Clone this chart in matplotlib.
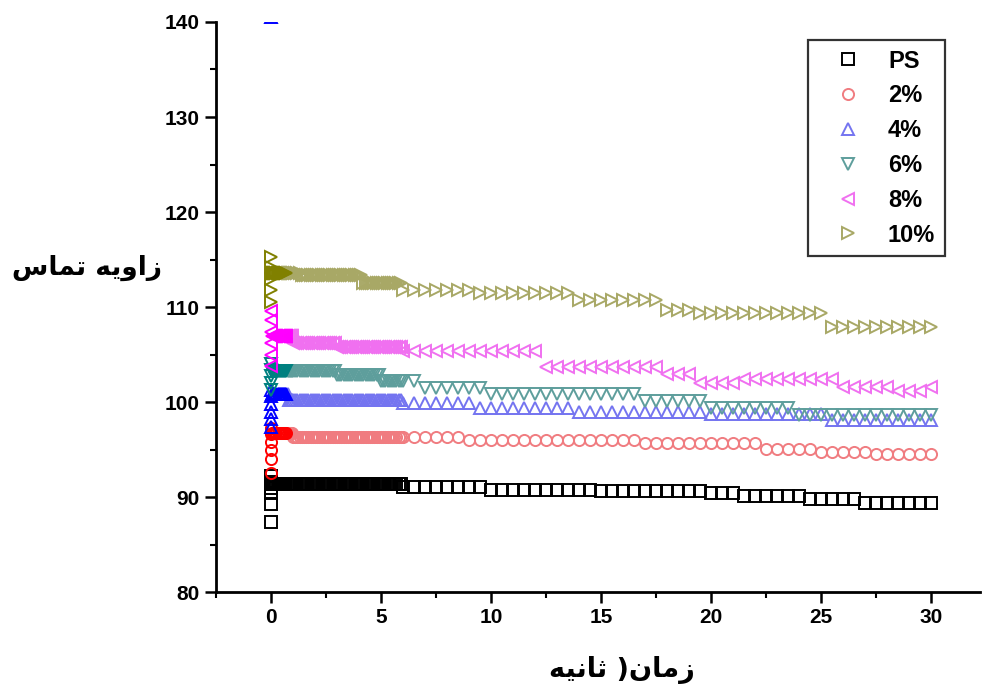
import numpy as np
import matplotlib
matplotlib.use("Agg")
import matplotlib.pyplot as plt
from matplotlib.ticker import MultipleLocator

# sampling times: very dense first second, dense up to 6 s, then every half second
t_fast = np.round(np.arange(0.05, 1.0, 0.05), 2)
t_dense = np.round(np.arange(1.0, 6.0, 0.1), 2)
t_sparse = np.round(np.arange(6.0, 30.01, 0.5), 2)

labels = ["PS", "2%", "4%", "6%", "8%", "10%"]

# values recorded at t = 0 (initial transient)
t0_vals = {
    "PS": [87.4, 89.3, 90.4, 91.0, 91.6, 92.2],
    "2%": [92.5, 94.0, 95.0, 95.8, 96.6, 97.3],
    "4%": [140.5, 97.4, 98.2, 99.0, 99.8, 100.6, 101.3],
    "6%": [101.3, 102.0, 102.7, 103.4, 104.0],
    "8%": [103.8, 105.0, 106.2, 107.4, 108.6, 109.6],
    "10%": [110.5, 111.8, 113.0, 114.2, 115.3],
}

# contact angle levels: level holds from each step time on
step_t = {
    "PS": [0, 6, 10, 15, 20, 21.5, 24.5, 27],
    "2%": [0, 1, 9, 17, 22.5, 25, 27.5],
    "4%": [0, 0.8, 6, 9.5, 14, 20, 25.5],
    "6%": [0, 3, 5, 7, 10, 17, 20, 24],
    "8%": [0, 1, 3, 6, 12.3, 18, 19.5, 21.5, 26, 28.5, 29.8],
    "10%": [0, 1.4, 4.2, 6, 9.5, 14, 18, 19.5, 25.3],
}
step_v = {
    "PS": [91.4, 91.1, 90.8, 90.6, 90.4, 90.1, 89.8, 89.4],
    "2%": [96.8, 96.3, 96.0, 95.7, 95.1, 94.8, 94.5],
    "4%": [100.9, 100.2, 99.9, 99.4, 99.0, 98.8, 98.1],
    "6%": [103.3, 102.9, 102.2, 101.5, 100.9, 100.1, 99.4, 98.6],
    "8%": [107.0, 106.2, 105.8, 105.4, 103.7, 103.0, 102.0, 102.4, 101.6, 101.2, 101.6],
    "10%": [113.6, 113.4, 112.5, 111.8, 111.5, 110.7, 109.7, 109.4, 107.9],
}

dark = {"PS": "#000000", "2%": "#ff0000", "4%": "#0000ff",
        "6%": "#008080", "8%": "#ff00ff", "10%": "#808000"}
light = {"PS": "#000000", "2%": "#f07c80", "4%": "#7474f0",
         "6%": "#5e9e9c", "8%": "#f070f0", "10%": "#a8a866"}
markers = {"PS": "s", "2%": "o", "4%": "^", "6%": "v", "8%": "<", "10%": ">"}

# Arabic text in presentation forms, visual order
ylabel_txt = "\uFEB1\uFE8E\uFEE4\uFE97 \uFEEA\uFBFE\uFEED\uFE8D\uFEAF"
xlabel_txt = "\uFEEA\uFBFF\uFEE7\uFE8E\uFE9B )\uFEE5\uFE8E\uFEE3\uFEAF"


def series(name):
    t = np.concatenate([t_fast, t_dense, t_sparse])
    idx = np.searchsorted(step_t[name], t, side="right") - 1
    v = np.array(step_v[name])[idx]
    t0 = np.zeros(len(t0_vals[name]))
    return np.concatenate([t0, t]), np.concatenate([t0_vals[name], v])


plt.rcParams["font.family"] = ["Liberation Sans", "DejaVu Sans"]
fig = plt.figure(figsize=(9.83, 7.0), dpi=100)
ax = fig.add_axes([0.2197, 0.154, 0.777, 0.8146])

for name in labels:
    x, y = series(name)
    early = x < 0.75
    ax.plot(x[~early], y[~early], linestyle="none", marker=markers[name], ms=8,
            mfc="none", mec=light[name], mew=1.4, label=name)
    ax.plot(x[early], y[early], linestyle="none", marker=markers[name], ms=8,
            mfc="none", mec=dark[name], mew=1.4)

ax.set_xlim(-2.5, 32.2)
ax.set_ylim(80, 140)
ax.spines["top"].set_visible(False)
ax.spines["right"].set_visible(False)
ax.spines["left"].set_linewidth(2)
ax.spines["bottom"].set_linewidth(2)
ax.xaxis.set_major_locator(MultipleLocator(5))
ax.xaxis.set_minor_locator(MultipleLocator(2.5))
ax.yaxis.set_major_locator(MultipleLocator(10))
ax.yaxis.set_minor_locator(MultipleLocator(5))
ax.tick_params(which="major", direction="out", length=8, width=1.8, labelsize=15)
ax.tick_params(which="minor", direction="out", length=4, width=1.5)
for lab in ax.get_xticklabels() + ax.get_yticklabels():
    lab.set_fontweight("bold")

leg = ax.legend(loc="upper right", bbox_to_anchor=(0.954, 0.968), borderaxespad=0,
                frameon=True, fancybox=False, edgecolor="black",
                prop={"weight": "bold", "size": 17}, labelspacing=0.5,
                handlelength=2.6, handletextpad=0.4, borderpad=0.4)
leg.get_frame().set_linewidth(1.6)

fig.text(0.088, 0.617, ylabel_txt, family="DejaVu Sans", fontsize=19,
         fontweight="bold", ha="center", va="center")
fig.text(0.633, 0.043, xlabel_txt, family="DejaVu Sans", fontsize=19.5,
         fontweight="bold", ha="center", va="center")

fig.savefig("out.png", dpi=100)
